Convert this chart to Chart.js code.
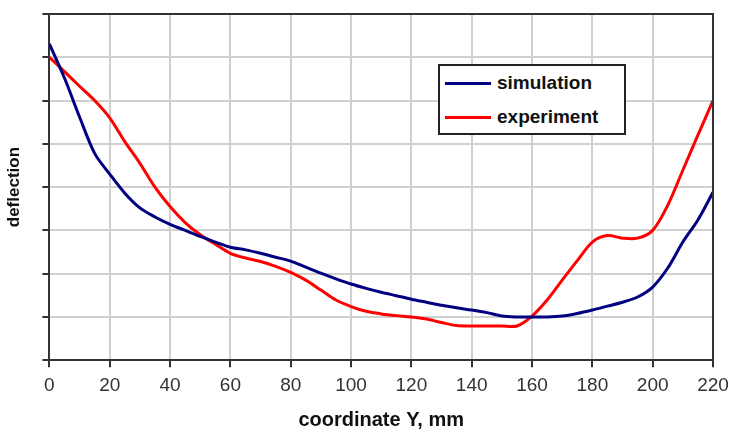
<!DOCTYPE html>
<html lang="en">
  <head>
    <meta charset="UTF-8" />
    <title>deflection vs coordinate Y</title>
    <script src="https://cdn.jsdelivr.net/npm/chart.js@4.4.1/dist/chart.umd.min.js"></script>
    <style>
      body { margin: 0; background: #fff; }
      #wrap { position: relative; width: 736px; height: 432px; }
      #legend {
        position: absolute; left: 438px; top: 64px; width: 184px; height: 67px;
        border: 2px solid #222; background: #fff;
        font: bold 19px 'Liberation Sans', Arial, sans-serif; color: #111;
      }
      #legend .row { position: absolute; left: 5px; height: 22px; line-height: 22px; white-space: nowrap; }
      #legend .sw { display: inline-block; width: 46px; height: 3px; vertical-align: middle; margin-right: 6px; }
    </style>
  </head>

  <body>
    <div id="wrap">
      <canvas id="chart" width="736" height="432"></canvas>
      <div id="legend">
        <div class="row" style="top: 6px"><span class="sw" style="background: #000080"></span>simulation</div>
        <div class="row" style="top: 40px"><span class="sw" style="background: #ff0000"></span>experiment</div>
      </div>
    </div>

    <script>
      const xs = [0, 5, 10, 15, 20, 25, 30, 35, 40, 45, 50, 55, 60, 65, 70, 75, 80, 85, 90, 95,
        100, 105, 110, 115, 120, 125, 130, 135, 140, 145, 150, 155, 160, 165, 170, 175, 180,
        185, 190, 195, 200, 205, 210, 215, 220]

      const simulation = [7.31, 6.52, 5.62, 4.78, 4.3, 3.86, 3.52, 3.31, 3.14, 3.0, 2.86, 2.73,
        2.61, 2.55, 2.47, 2.38, 2.29, 2.15, 2.01, 1.88, 1.76, 1.66, 1.57, 1.49, 1.41, 1.34,
        1.27, 1.21, 1.16, 1.1, 1.02, 1.0, 1.0, 1.0, 1.02, 1.08, 1.16, 1.25, 1.34, 1.46, 1.69,
        2.13, 2.73, 3.24, 3.88]

      const experiment = [7.0, 6.67, 6.33, 6.0, 5.6, 5.05, 4.55, 4.0, 3.55, 3.18, 2.9, 2.68,
        2.47, 2.36, 2.28, 2.17, 2.03, 1.85, 1.62, 1.39, 1.24, 1.13, 1.07, 1.03, 1.0, 0.95,
        0.87, 0.8, 0.79, 0.79, 0.79, 0.79, 1.02, 1.39, 1.85, 2.3, 2.73, 2.88, 2.82, 2.82,
        3.0, 3.58, 4.39, 5.2, 6.0]

      const xTicks = [0, 20, 40, 60, 80, 100, 120, 140, 160, 180, 200, 220]

      const font = "'Liberation Sans', Arial, sans-serif"

      const frame = {
        id: 'frame',
        afterDatasetsDraw(chart) {
          const { ctx, chartArea: a } = chart
          ctx.save()
          ctx.strokeStyle = '#333'
          ctx.lineWidth = 2
          ctx.beginPath()
          ctx.moveTo(a.left, a.top)
          ctx.lineTo(a.right, a.top)
          ctx.lineTo(a.right, a.bottom)
          ctx.stroke()
          ctx.restore()
        },
      }

      new Chart(document.getElementById('chart'), {
        type: 'line',
        data: {
          datasets: [
            {
              label: 'simulation',
              data: xs.map((x, i) => ({ x: x, y: simulation[i] })),
              borderColor: '#000080',
              borderWidth: 3,
              pointRadius: 0,
              tension: 0.3,
            },
            {
              label: 'experiment',
              data: xs.map((x, i) => ({ x: x, y: experiment[i] })),
              borderColor: '#ff0000',
              borderWidth: 3,
              pointRadius: 0,
              tension: 0.3,
            },
          ],
        },
        options: {
          responsive: false,
          animation: false,
          layout: { padding: { top: 14, right: 23, left: 0, bottom: 0 } },
          scales: {
            x: {
              type: 'linear',
              min: 0,
              max: 220,
              afterBuildTicks: (s) => { s.ticks = xTicks.map((v) => ({ value: v })) },
              grid: { color: '#d0d0d0', lineWidth: 2, tickColor: '#333', tickLength: 7, tickWidth: 2 },
              border: { color: '#333', width: 2 },
              ticks: { color: '#333', padding: 7, font: { family: font, size: 19 } },
              title: {
                display: true,
                text: 'coordinate Y, mm',
                color: '#111',
                font: { family: font, size: 20, weight: 'bold' },
                padding: { top: 4, bottom: 0 },
              },
            },
            y: {
              min: 0,
              max: 8,
              ticks: { display: false, stepSize: 1 },
              grid: { color: '#d0d0d0', lineWidth: 2, tickColor: '#333', tickLength: 7, tickWidth: 2 },
              border: { color: '#333', width: 2 },
              title: {
                display: true,
                text: 'deflection',
                color: '#111',
                font: { family: font, size: 17, weight: 'bold' },
                padding: { top: 4, bottom: 18 },
              },
            },
          },
          plugins: {
            legend: { display: false },
            tooltip: { enabled: false },
          },
        },
        plugins: [frame],
      })
    </script>
  </body>
</html>
